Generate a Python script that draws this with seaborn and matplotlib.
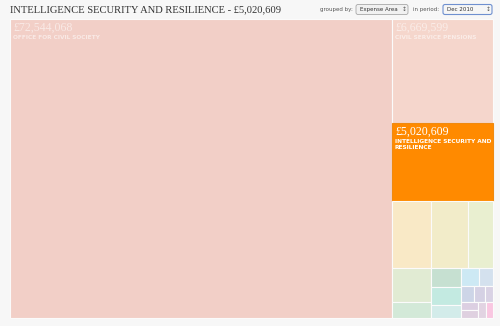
import textwrap

import matplotlib
matplotlib.use("Agg")
import matplotlib.pyplot as plt
import seaborn as sns
from matplotlib.patches import FancyBboxPatch

# --- data ---
TITLE = "INTELLIGENCE SECURITY AND RESILIENCE - £5,020,609"
GROUPED_BY = "Expense Area"
PERIOD = "Dec 2010"
SELECTED = "INTELLIGENCE SECURITY AND RESILIENCE"

areas = [
    "OFFICE FOR CIVIL SOCIETY",
    "CIVIL SERVICE PENSIONS",
    "INTELLIGENCE SECURITY AND RESILIENCE",
] + [""] * 17

spend = [
    72544068, 6669599, 5020609,
    1664000, 1579000, 1067000,
    844000, 397000,
    363000, 344000, 248000,
    199000, 153000, 138000,
    108000, 87000, 87000, 80000, 80000, 71000,
]

cell_colors = [
    "#f2cfc7", "#f5d6cc", "#ff8a00",
    "#f9e9c6", "#f2ecc9", "#e9efd0",
    "#e1ebd3", "#d3e9d8",
    "#c6e0d1", "#c3eae1", "#d3ecea",
    "#cde9f4", "#d4e1ee", "#cdd5e7",
    "#d5d1e4", "#d9d2e4", "#dccfe2", "#dfd0e0", "#e2d3e2", "#f9c7e1",
]

PHI = (1 + 5 ** 0.5) / 2


def squarify(values, x0, y0, x1, y1, ratio=PHI):
    # d3-style squarified layout (golden ratio target)
    rects = []
    total = float(sum(values))
    i0, n = 0, len(values)
    while i0 < n:
        dx, dy = x1 - x0, y1 - y0
        s = values[i0]
        vmin = vmax = s
        alpha = max(dy / dx, dx / dy) / (total * ratio)
        beta = s * s * alpha
        best = max(vmax / beta, beta / vmin)
        i1 = i0 + 1
        while i1 < n:
            v = values[i1]
            s2 = s + v
            mn, mx = min(vmin, v), max(vmax, v)
            beta = s2 * s2 * alpha
            r = max(mx / beta, beta / mn)
            if r > best:
                break
            s, vmin, vmax, best = s2, mn, mx, r
            i1 += 1
        row = values[i0:i1]
        if dx < dy:
            h = dy * s / total
            x = x0
            for v in row:
                w = dx * v / s
                rects.append((x, y0, w, h))
                x += w
            y0 += h
        else:
            w = dx * s / total
            y = y0
            for v in row:
                h = dy * v / s
                rects.append((x0, y, w, h))
                y += h
            x0 += w
        total -= s
        i0 = i1
    return rects


sns.set_theme(style="white")

fig = plt.figure(figsize=(5, 3.26), dpi=100, facecolor="#f7f7f7")
ax = fig.add_axes([0, 0, 1, 1])
ax.set_facecolor("#f7f7f7")
ax.set_xlim(0, 500)
ax.set_ylim(326, 0)
ax.axis("off")

rects = squarify(spend, 10, 19, 493, 318)

for (x, y, w, h), name, value, col in zip(rects, areas, spend, cell_colors):
    sel = name == SELECTED
    ax.bar(x, h, width=w, bottom=y, align="edge", color=col,
           edgecolor="#f08a10" if sel else "#fbfbfb", linewidth=0.8)
    if name:
        a = 1.0 if sel else 0.55
        ax.text(x + 3, y + 3, f"£{value:,}", ha="left", va="top",
                fontsize=8.6, family="Liberation Serif", color="white", alpha=a)
        ax.text(x + 3, y + 16, textwrap.fill(name, 25), ha="left", va="top",
                fontsize=4.2, fontweight="bold", family="DejaVu Sans",
                color="white", alpha=a, linespacing=1.35)

# --- header ---
ax.text(10, 10, TITLE, ha="left", va="center", fontsize=7.6,
        family="Liberation Serif", color="#333333")

ax.text(320, 9.5, "grouped by:", ha="left", va="center", fontsize=4.0, color="#555555")
ax.add_patch(FancyBboxPatch((356, 4.5), 52, 10, boxstyle="round,pad=0,rounding_size=2",
                            facecolor="#f1f1f1", edgecolor="#a8a8a8", linewidth=0.6))
ax.text(360, 9.5, GROUPED_BY, ha="left", va="center", fontsize=4.0, color="#333333")
ax.text(404, 9.5, "↕", ha="center", va="center", fontsize=4.2, color="#555555")

ax.text(413, 9.5, "in period:", ha="left", va="center", fontsize=4.0, color="#555555")
ax.add_patch(FancyBboxPatch((443, 4.5), 49, 10, boxstyle="round,pad=0,rounding_size=2",
                            facecolor="#f6f6f6", edgecolor="#6f90d0", linewidth=0.8))
ax.text(447, 9.5, PERIOD, ha="left", va="center", fontsize=4.0, color="#333333")
ax.text(488, 9.5, "↕", ha="center", va="center", fontsize=4.2, color="#555555")

fig.savefig("out.png", dpi=100, facecolor=fig.get_facecolor())
